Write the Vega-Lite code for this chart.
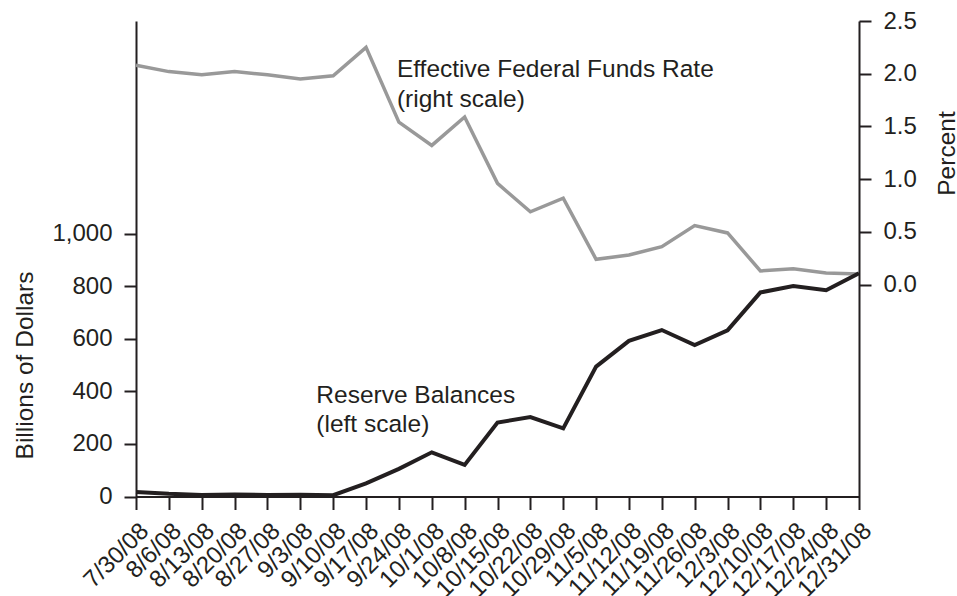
{
  "$schema": "https://vega.github.io/schema/vega-lite/v6.json",
  "width": 723,
  "height": 475.5,
  "autosize": {"type": "none"},
  "padding": {"left": 136, "top": 21, "right": 98, "bottom": 99.5},
  "background": "white",
  "config": {
    "font": "Liberation Sans",
    "view": {"stroke": null},
    "axis": {
      "grid": false,
      "domainColor": "#231f20",
      "domainWidth": 2,
      "tickColor": "#231f20",
      "tickWidth": 2,
      "labelColor": "#231f20",
      "labelFont": "Liberation Sans",
      "labelFontSize": 24,
      "titleFont": "Liberation Sans",
      "titleFontSize": 24.5,
      "titleFontWeight": "normal",
      "titleColor": "#231f20"
    }
  },
  "datasets": {
    "series": [
      {"date": "7/30/08", "rate": 2.08, "reserves": 17},
      {"date": "8/6/08", "rate": 2.02, "reserves": 10},
      {"date": "8/13/08", "rate": 1.99, "reserves": 6},
      {"date": "8/20/08", "rate": 2.02, "reserves": 8},
      {"date": "8/27/08", "rate": 1.99, "reserves": 6},
      {"date": "9/3/08", "rate": 1.95, "reserves": 7},
      {"date": "9/10/08", "rate": 1.98, "reserves": 5},
      {"date": "9/17/08", "rate": 2.25, "reserves": 50},
      {"date": "9/24/08", "rate": 1.54, "reserves": 105},
      {"date": "10/1/08", "rate": 1.32, "reserves": 168},
      {"date": "10/8/08", "rate": 1.59, "reserves": 120},
      {"date": "10/15/08", "rate": 0.96, "reserves": 281},
      {"date": "10/22/08", "rate": 0.69, "reserves": 302},
      {"date": "10/29/08", "rate": 0.82, "reserves": 259},
      {"date": "11/5/08", "rate": 0.24, "reserves": 494},
      {"date": "11/12/08", "rate": 0.28, "reserves": 592},
      {"date": "11/19/08", "rate": 0.36, "reserves": 633},
      {"date": "11/26/08", "rate": 0.56, "reserves": 576},
      {"date": "12/3/08", "rate": 0.49, "reserves": 632},
      {"date": "12/10/08", "rate": 0.13, "reserves": 776},
      {"date": "12/17/08", "rate": 0.15, "reserves": 800},
      {"date": "12/24/08", "rate": 0.11, "reserves": 784},
      {"date": "12/31/08", "rate": 0.1, "reserves": 849}
    ],
    "rateNote": [
      {"date": "9/24/08", "value": 1.97, "label": "Effective Federal Funds Rate\n(right scale)"}
    ],
    "reserveNote": [
      {"date": "9/3/08", "value": 355, "label": "Reserve Balances\n(left scale)"}
    ]
  },
  "encoding": {
    "x": {
      "field": "date",
      "type": "ordinal",
      "sort": null,
      "scale": {
        "type": "point",
        "padding": 0,
        "domain": ["7/30/08","8/6/08","8/13/08","8/20/08","8/27/08","9/3/08","9/10/08","9/17/08","9/24/08","10/1/08","10/8/08","10/15/08","10/22/08","10/29/08","11/5/08","11/12/08","11/19/08","11/26/08","12/3/08","12/10/08","12/17/08","12/24/08","12/31/08"]
      },
      "axis": {
        "title": null,
        "orient": "bottom",
        "labelAngle": -45,
        "labelOverlap": false,
        "tickSize": 13,
        "labelPadding": 9
      }
    }
  },
  "layer": [
    {
      "data": {"name": "series"},
      "mark": {"type": "line", "color": "#999999", "strokeWidth": 3.5},
      "encoding": {
        "y": {
          "field": "rate",
          "type": "quantitative",
          "scale": {"domain": [-2.01, 2.5], "nice": false, "zero": false},
          "axis": {
            "orient": "right",
            "title": "Percent",
            "values": [0, 0.5, 1, 1.5, 2, 2.5],
            "format": ".1f",
            "tickSize": 12,
            "labelPadding": 12,
            "titleAngle": -90,
            "titleX": 95,
            "titleY": 132,
            "titleAlign": "center",
            "titleBaseline": "alphabetic"
          }
        }
      }
    },
    {
      "data": {"name": "rateNote"},
      "mark": {"type": "text", "align": "left", "baseline": "alphabetic", "fontSize": 24.5, "lineBreak": "\n", "lineHeight": 30, "color": "#231f20", "dx": -2},
      "encoding": {
        "y": {"field": "value", "type": "quantitative", "scale": {"domain": [-2.01, 2.5], "nice": false, "zero": false}, "axis": null},
        "text": {"field": "label"}
      }
    },
    {
      "data": {"name": "series"},
      "mark": {"type": "line", "color": "#231f20", "strokeWidth": 4},
      "encoding": {
        "y": {
          "field": "reserves",
          "type": "quantitative",
          "scale": {"domain": [0, 1808], "nice": false, "zero": false},
          "axis": {
            "orient": "left",
            "title": "Billions of Dollars",
            "values": [0, 200, 400, 600, 800, 1000],
            "format": ",d",
            "tickSize": 12,
            "labelPadding": 12,
            "titleX": -104,
            "titleY": 344,
            "titleAlign": "center",
            "titleBaseline": "alphabetic"
          }
        }
      }
    },
    {
      "data": {"name": "reserveNote"},
      "mark": {"type": "text", "align": "left", "baseline": "alphabetic", "fontSize": 24.5, "lineBreak": "\n", "lineHeight": 29, "color": "#231f20", "dx": 16},
      "encoding": {
        "y": {"field": "value", "type": "quantitative", "scale": {"domain": [0, 1808], "nice": false, "zero": false}, "axis": null},
        "text": {"field": "label"}
      }
    }
  ],
  "resolve": {"scale": {"y": "independent"}, "axis": {"y": "independent"}}
}
